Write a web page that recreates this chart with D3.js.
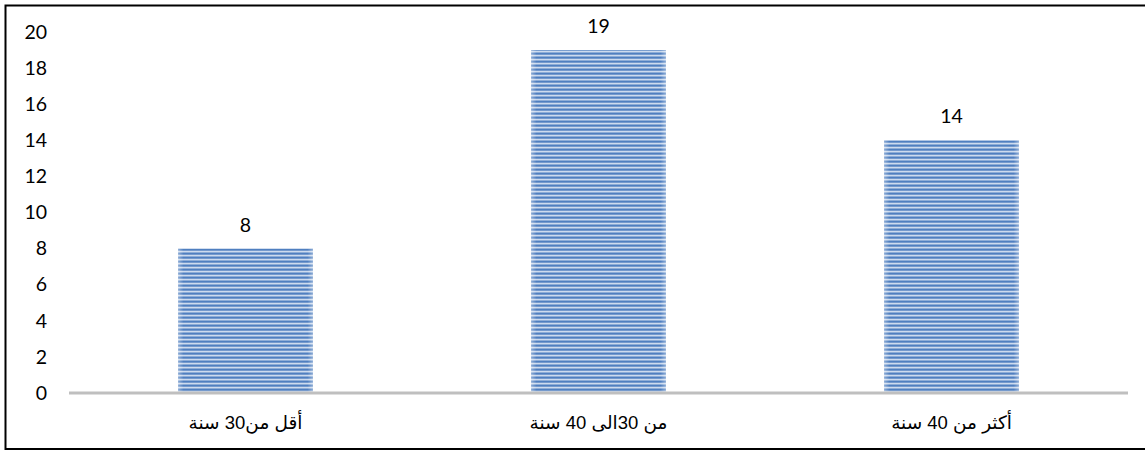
<!DOCTYPE html>
<html><head><meta charset="utf-8">
<script src="https://cdn.jsdelivr.net/npm/d3@7"></script>
<style>body{margin:0;background:#fff}svg{display:block}</style>
</head><body>
<script>
const categories = ["أقل من30 سنة", "من 30الى 40 سنة", "أكثر من 40 سنة"];
const values = [8, 19, 14];
const yTicks = [0, 2, 4, 6, 8, 10, 12, 14, 16, 18, 20];

const W = 1145, H = 454;
const svg = d3.select("body").append("svg").attr("width", W).attr("height", H);

const defs = svg.append("defs");
const pat = defs.append("pattern").attr("id", "stripes").attr("patternUnits", "userSpaceOnUse")
  .attr("width", 8).attr("height", 4);
pat.append("rect").attr("width", 8).attr("height", 4).attr("fill", "#cddbee");
pat.append("rect").attr("y", 0.5).attr("width", 8).attr("height", 2.2).attr("fill", "#4f7fc0");
const grad = defs.append("linearGradient").attr("id", "edge").attr("x1", 0).attr("x2", 1);
grad.append("stop").attr("offset", 0).attr("stop-color", "#fff").attr("stop-opacity", 0.35);
grad.append("stop").attr("offset", 0.04).attr("stop-color", "#fff").attr("stop-opacity", 0);
grad.append("stop").attr("offset", 0.96).attr("stop-color", "#fff").attr("stop-opacity", 0);
grad.append("stop").attr("offset", 1).attr("stop-color", "#fff").attr("stop-opacity", 0.35);

// frame
svg.append("path").attr("d", `M${W + 5},5.5 H5.5 V449 H${W + 5}`)
  .attr("fill", "none").attr("stroke", "#000").attr("stroke-width", 2);

const x = d3.scaleBand().domain(categories).range([69, 1128]).paddingInner(0.618).paddingOuter(0.309);
const y = d3.scaleLinear().domain([0, 20]).range([393, 32]);

const numFont = "Lato, 'Open Sans', sans-serif";

// y tick labels
const yAxis = d3.axisLeft(y).tickValues(yTicks).tickSize(0).tickPadding(0);
const gy = svg.append("g").attr("transform", "translate(47,0)").call(yAxis);
gy.select(".domain").remove();
gy.selectAll("text").attr("font-family", numFont).attr("font-size", 19.5).attr("fill", "#000");

// bars
const bars = svg.append("g");
bars.selectAll("rect.b").data(values).join("rect").attr("class", "b")
  .attr("x", (d, i) => x(categories[i])).attr("width", x.bandwidth())
  .attr("y", d => y(d)).attr("height", d => y(0) - y(d))
  .attr("fill", "url(#stripes)");
bars.selectAll("rect.e").data(values).join("rect").attr("class", "e")
  .attr("x", (d, i) => x(categories[i])).attr("width", x.bandwidth())
  .attr("y", d => y(d)).attr("height", d => y(0) - y(d))
  .attr("fill", "url(#edge)");

// x axis
const xAxis = d3.axisBottom(x).tickSize(0).tickPadding(0);
const gx = svg.append("g").attr("transform", `translate(0,${y(0)})`).call(xAxis);
gx.select(".domain").attr("stroke", "#bfbfbf").attr("stroke-width", 3).attr("d", "M69,0H1128");
gx.selectAll("text").attr("y", 0).attr("dy", 0).attr("transform", "translate(0,36)")
  .attr("direction", "rtl").attr("text-anchor", "middle")
  .attr("font-family", "'Liberation Sans', Arial, 'DejaVu Sans', sans-serif").attr("font-size", 18.5).attr("fill", "#000");

// value labels
svg.append("g").selectAll("text").data(values).join("text")
  .attr("x", (d, i) => x(categories[i]) + x.bandwidth() / 2)
  .attr("y", d => y(d) - 17)
  .attr("text-anchor", "middle")
  .attr("font-family", numFont).attr("font-size", 19.5).attr("fill", "#000")
  .text(d => d);
</script>
</body></html>
